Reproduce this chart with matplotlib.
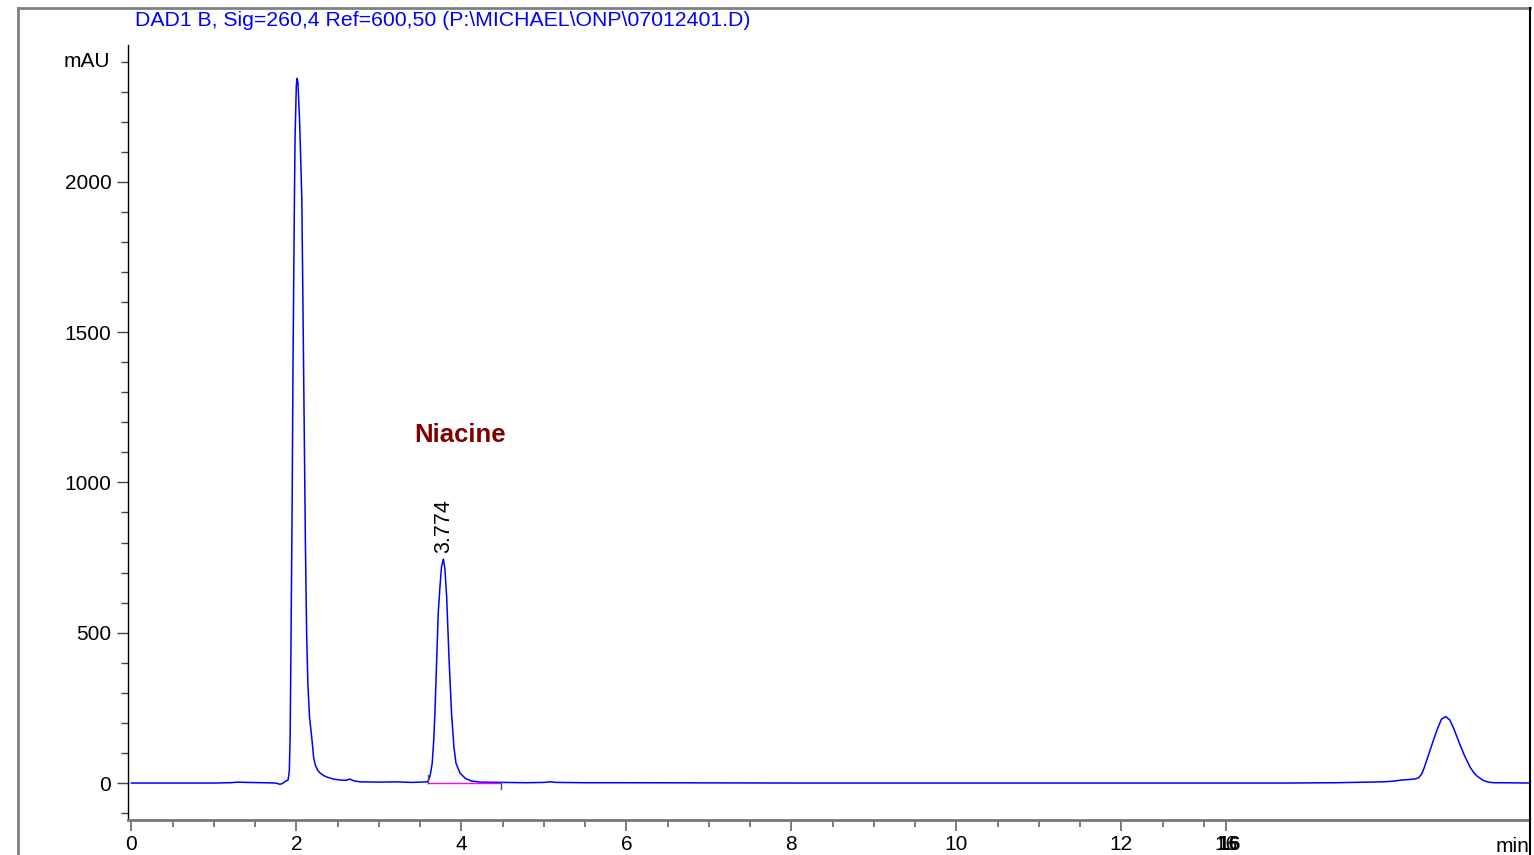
import numpy as np
import matplotlib.pyplot as plt
from matplotlib.lines import Line2D
import matplotlib.transforms as mtransforms

plt.rcParams['font.family'] = ['Liberation Sans', 'DejaVu Sans']

# Signal trace (time in min, signal in mAU)
time_min = [0.0, 0.5, 1.0, 1.2, 1.3, 1.4, 1.6, 1.75, 1.80, 1.83, 1.87, 1.90,
            1.915, 1.925, 1.935, 1.95, 1.96, 1.977, 1.985, 2.0, 2.01, 2.02,
            2.04, 2.055, 2.067, 2.08, 2.095, 2.11, 2.125, 2.14, 2.16, 2.19,
            2.21, 2.23, 2.26, 2.29, 2.33, 2.37, 2.45, 2.53, 2.60, 2.65, 2.70,
            2.77, 3.0, 3.2, 3.4, 3.593,
            3.615, 3.627, 3.647, 3.665, 3.68, 3.70, 3.72, 3.74, 3.76, 3.782,
            3.80, 3.822, 3.85, 3.881, 3.91, 3.935, 3.984, 4.05, 4.12, 4.23,
            4.5, 4.8, 5.0, 5.08, 5.15, 5.5, 6.0, 8.0, 10.0, 12.0, 14.0, 14.6,
            15.0, 15.17, 15.29, 15.40, 15.50, 15.55, 15.60, 15.64, 15.67, 15.73,
            15.78, 15.83, 15.88, 15.93, 15.98, 16.03, 16.10, 16.16, 16.23,
            16.27, 16.31, 16.39, 16.45, 16.51, 16.6, 16.94]
signal_mau = [0, 0, 0, 1, 3, 2, 1, 0, -4, -2, 6, 10,
              40, 150, 450, 950, 1400, 1938, 2150, 2320, 2344, 2330,
              2200, 2060, 1938, 1600, 1200, 800, 500, 330, 220, 143,
              85, 60, 42, 33, 25, 20, 13, 10, 9, 13, 7,
              4, 3, 4, 2, 4,
              18, 33, 66, 140, 233, 400, 565, 650, 720, 745,
              715, 620, 420, 233, 120, 66, 33, 15, 7, 3,
              2, 1, 2, 4, 2, 1, 1, 0, 0, 0, 0, 1,
              3, 4, 6, 10, 12, 13, 17, 30, 51, 100,
              141, 180, 213, 221, 210, 180, 130, 90, 51,
              35, 23, 8, 3, 1, 1, 0]

peak_rt = 3.782
peak_height = 745
peak_label = "3.774"
compound = "Niacine"
baseline_start = 3.593
baseline_end = 4.48

title = r"DAD1 B, Sig=260,4 Ref=600,50 (P:\MICHAEL\ONP\07012401.D)"
x_major = [0, 2, 4, 6, 8, 10, 12, 13.27]
x_labels = ["0", "2", "4", "6", "8", "10", "12", "16"]
y_major = [0, 500, 1000, 1500, 2000]
y_labels = ["0", "500", "1000", "1500", "2000"]

fig = plt.figure(figsize=(15.34, 8.55), dpi=100)
W, H = 1534, 855
ax = fig.add_axes([128 / W, 1 - 820 / H, (1529 - 128) / W, (820 - 45) / H])

ax.plot(time_min, signal_mau, color='#0000ff', lw=1.1, zorder=3)

# integration baseline and markers
ax.plot([baseline_start, baseline_end], [0, 0], color='#ff00ff', lw=1.0, zorder=4)
ax.plot([baseline_start, baseline_start], [0, 26], color='#555555', lw=1.0, zorder=4)
ax.plot([baseline_end, baseline_end], [4, -20], color='#555555', lw=1.0, zorder=4)

ax.text(peak_rt, peak_height + 20, peak_label, rotation=90, ha='center', va='bottom',
        fontsize=15.5, color='black')
ax.text(3.98, 1157, compound, ha='center', va='center', fontsize=18.5,
        fontweight='bold', color='#800000')

ax.set_xlim(-0.04, 16.94)
ax.set_ylim(-123, 2455)

ax.set_xticks(x_major)
ax.set_xticklabels(x_labels)
ax.set_xticks(np.arange(0.5, 13.01, 0.5), minor=True)
ax.set_yticks(y_major)
ax.set_yticklabels(y_labels)
ax.set_yticks(np.arange(-100, 2401, 100), minor=True)

ax.tick_params(axis='x', which='major', length=8, width=1.2, color='#666666',
               labelsize=15, pad=3)
ax.tick_params(axis='x', which='minor', length=5, width=1.2, color='#666666')
ax.tick_params(axis='y', which='major', length=8, width=1.0, color='#444444',
               labelsize=15, pad=4)
ax.tick_params(axis='y', which='minor', length=5, width=1.0, color='#444444')

# overprinted label at the last tick, "mAU" and "min" unit labels
fig.text(1229 / W, 1 - 844 / H, "16", ha='center', va='center', fontsize=15,
         fontweight='bold')
trans_y = mtransforms.blended_transform_factory(ax.transAxes, ax.transData)
ax.text(-0.0125, 2400, "mAU", transform=trans_y, ha='right', va='center', fontsize=15)
fig.text(1529 / W, 1 - 846 / H, "min", ha='right', va='center', fontsize=15)

for side in ['top', 'right']:
    ax.spines[side].set_visible(False)
ax.spines['left'].set_color('black')
ax.spines['left'].set_linewidth(1.0)
ax.spines['bottom'].set_color('#777777')
ax.spines['bottom'].set_linewidth(2.0)

fig.text(135 / W, 1 - 20 / H, title, color='#0000ff', fontsize=15.3,
         ha='left', va='center')

# outer frame
fig.add_artist(Line2D([18 / W, 18 / W], [0, 1 - 8 / H], color='#808080', lw=2,
                      transform=fig.transFigure))
fig.add_artist(Line2D([18 / W, 1530 / W], [1 - 8 / H, 1 - 8 / H], color='#808080', lw=2,
                      transform=fig.transFigure))
fig.add_artist(Line2D([1530 / W, 1530 / W], [0, 1 - 8 / H], color='black', lw=1.5,
                      transform=fig.transFigure))

fig.savefig('out.png', dpi=100)
